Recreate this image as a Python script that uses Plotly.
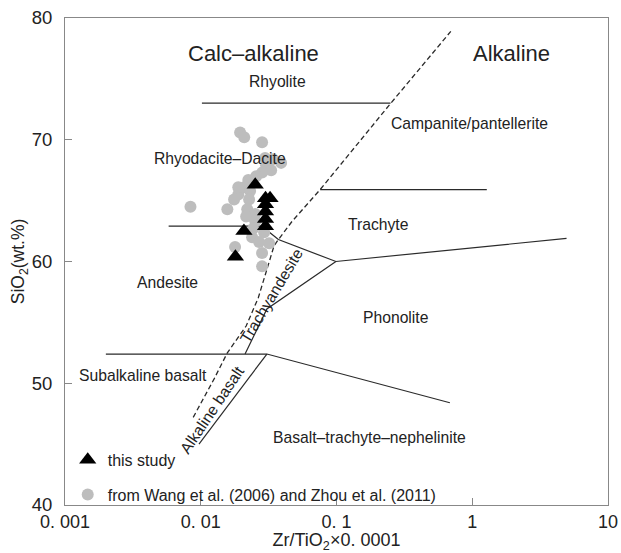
import plotly.graph_objects as go

# ---------------- data ----------------
# this study (black triangles)
tri_x = [0.0252, 0.0300, 0.0324, 0.0300, 0.0300, 0.0300, 0.0300, 0.0208, 0.0180]
tri_y = [66.3, 65.2, 65.2, 64.7, 64.1, 63.5, 62.9, 62.5, 60.4]

# Wang et al. (2006) and Zhou et al. (2011) (grey circles)
cir_x = [0.0195, 0.0209, 0.0283, 0.0298, 0.0341, 0.0391, 0.0303, 0.0330, 0.0283,
         0.0256, 0.0224, 0.0209, 0.0231, 0.0189, 0.0176, 0.0227, 0.0084, 0.0157,
         0.0220, 0.0252, 0.0216, 0.0252, 0.0243, 0.0293, 0.0239, 0.0269, 0.0319,
         0.0179, 0.0283, 0.0283, 0.0189]
cir_y = [70.6, 70.2, 69.8, 68.5, 68.4, 68.1, 67.9, 67.5, 67.3,
         67.0, 66.7, 66.1, 65.8, 65.5, 65.1, 65.1, 64.5, 64.3,
         64.3, 63.9, 63.7, 63.3, 62.7, 62.4, 62.0, 61.6, 61.5,
         61.2, 60.7, 59.6, 66.1]

# field boundaries (solid)
rhy_x = [0.0102, 0.25]
rhy_y = [73.0, 73.0]
trc_x = [0.0758, 1.28]
trc_y = [65.9, 65.9]
and_x = [0.0058, 0.0282, 0.0373, 0.0990, 4.95]
and_y = [62.9, 62.9, 61.8, 60.0, 61.9]
tra_x = [0.0990, 0.0307, 0.0212]
tra_y = [60.0, 56.1, 52.4]
sub_x = [0.0020, 0.0307, 0.684]
sub_y = [52.4, 52.4, 48.4]
alb_x = [0.0307, 0.0097]
alb_y = [52.4, 45.0]
# subalkaline / alkaline divide (dashed)
div_x = [0.0088, 0.0126, 0.0157, 0.0216, 0.0265, 0.0347, 0.0373, 0.0471, 0.0757, 0.247, 0.695]
div_y = [47.2, 50.4, 52.5, 54.7, 57.0, 61.3, 61.8, 63.3, 65.9, 72.9, 78.9]

# field labels: (text, log10 x, y, angle, size)
labels = [
    ("Calc\u2013alkaline", -1.614, 77.1, 0, 22),
    ("Alkaline", 0.290, 77.1, 0, 22),
    ("Rhyolite", -1.435, 74.8, 0, 15.7),
    ("Campanite/pantellerite", -0.019, 71.3, 0, 15.7),
    ("Rhyodacite\u2013Dacite", -1.860, 68.5, 0, 15.7),
    ("Trachyte", -0.689, 63.05, 0, 15.7),
    ("Andesite", -2.245, 58.3, 0, 15.7),
    ("Trachyandesite", -1.478, 57.2, -59, 15.7),
    ("Phonolite", -0.562, 55.36, 0, 15.7),
    ("Subalkaline basalt", -2.427, 50.63, 0, 15.7),
    ("Alkaline basalt", -1.916, 47.85, -56, 15.7),
    ("Basalt\u2013trachyte\u2013nephelinite", -0.759, 45.53, 0, 15.7),
]

x_tickvals = [0.001, 0.01, 0.1, 1, 10]
x_ticktext = ["0. 001", "0. 01", "0. 1", "1", "10"]
y_tickvals = [40, 50, 60, 70, 80]

FONT = "Liberation Sans, Arial, sans-serif"
LINE = dict(color="#2a2a2a", width=1.2)

fig = go.Figure()
for xs, ys in [(rhy_x, rhy_y), (trc_x, trc_y), (and_x, and_y), (tra_x, tra_y),
               (sub_x, sub_y), (alb_x, alb_y)]:
    fig.add_trace(go.Scatter(x=xs, y=ys, mode="lines", line=LINE,
                             showlegend=False, hoverinfo="skip"))
fig.add_trace(go.Scatter(x=div_x, y=div_y, mode="lines",
                         line=dict(color="#2a2a2a", width=1.3, dash="5px,3px"),
                         showlegend=False, hoverinfo="skip"))

fig.add_trace(go.Scatter(x=cir_x, y=cir_y, mode="markers",
                         marker=dict(symbol="circle", size=12, color="#bdbdbd"),
                         name="from Wang et al. (2006) and Zhou et al. (2011)",
                         legendgroup="b", legendrank=2))
fig.add_trace(go.Scatter(x=tri_x, y=tri_y, mode="markers",
                         marker=dict(symbol="triangle-up", size=15, color="#000000"),
                         name="this study", legendgroup="a", legendrank=1))

for text, lx, ly, ang, sz in labels:
    fig.add_annotation(x=lx, y=ly, xref="x", yref="y", text=text, showarrow=False,
                       textangle=ang, font=dict(family=FONT, size=sz, color="#222"))

fig.update_layout(
    width=621, height=553,
    margin=dict(l=65, r=13, t=18, b=48),
    paper_bgcolor="white", plot_bgcolor="white",
    font=dict(family=FONT, color="#222"),
    showlegend=True,
    legend=dict(x=0.005, y=-0.014, xanchor="left", yanchor="bottom",
                bgcolor="rgba(0,0,0,0)", font=dict(size=16, family=FONT, color="#222"),
                tracegroupgap=11, traceorder="grouped"),
)
fig.update_xaxes(type="log", range=[-3, 1], tickvals=x_tickvals, ticktext=x_ticktext,
                 automargin=False,
                 ticks="inside", ticklen=7, tickcolor="#888", showgrid=False,
                 zeroline=False, showline=True, linecolor="#888", linewidth=1, mirror=True,
                 tickfont=dict(size=18, family=FONT, color="#222"),
                 title=dict(text="Zr/TiO<sub>2</sub>×0. 0001", standoff=4,
                            font=dict(size=18, family=FONT, color="#222")))
fig.update_yaxes(range=[40, 80], tickvals=y_tickvals,
                 automargin=False,
                 ticks="inside", ticklen=7, tickcolor="#888", showgrid=False,
                 zeroline=False, showline=True, linecolor="#888", linewidth=1, mirror=True,
                 ticklabelstandoff=8,
                 tickfont=dict(size=18.5, family=FONT, color="#222"),
                 title=dict(text="SiO<sub>2</sub>(wt.%)", standoff=2,
                            font=dict(size=17.5, family=FONT, color="#222")))

fig.write_html("out.html")
